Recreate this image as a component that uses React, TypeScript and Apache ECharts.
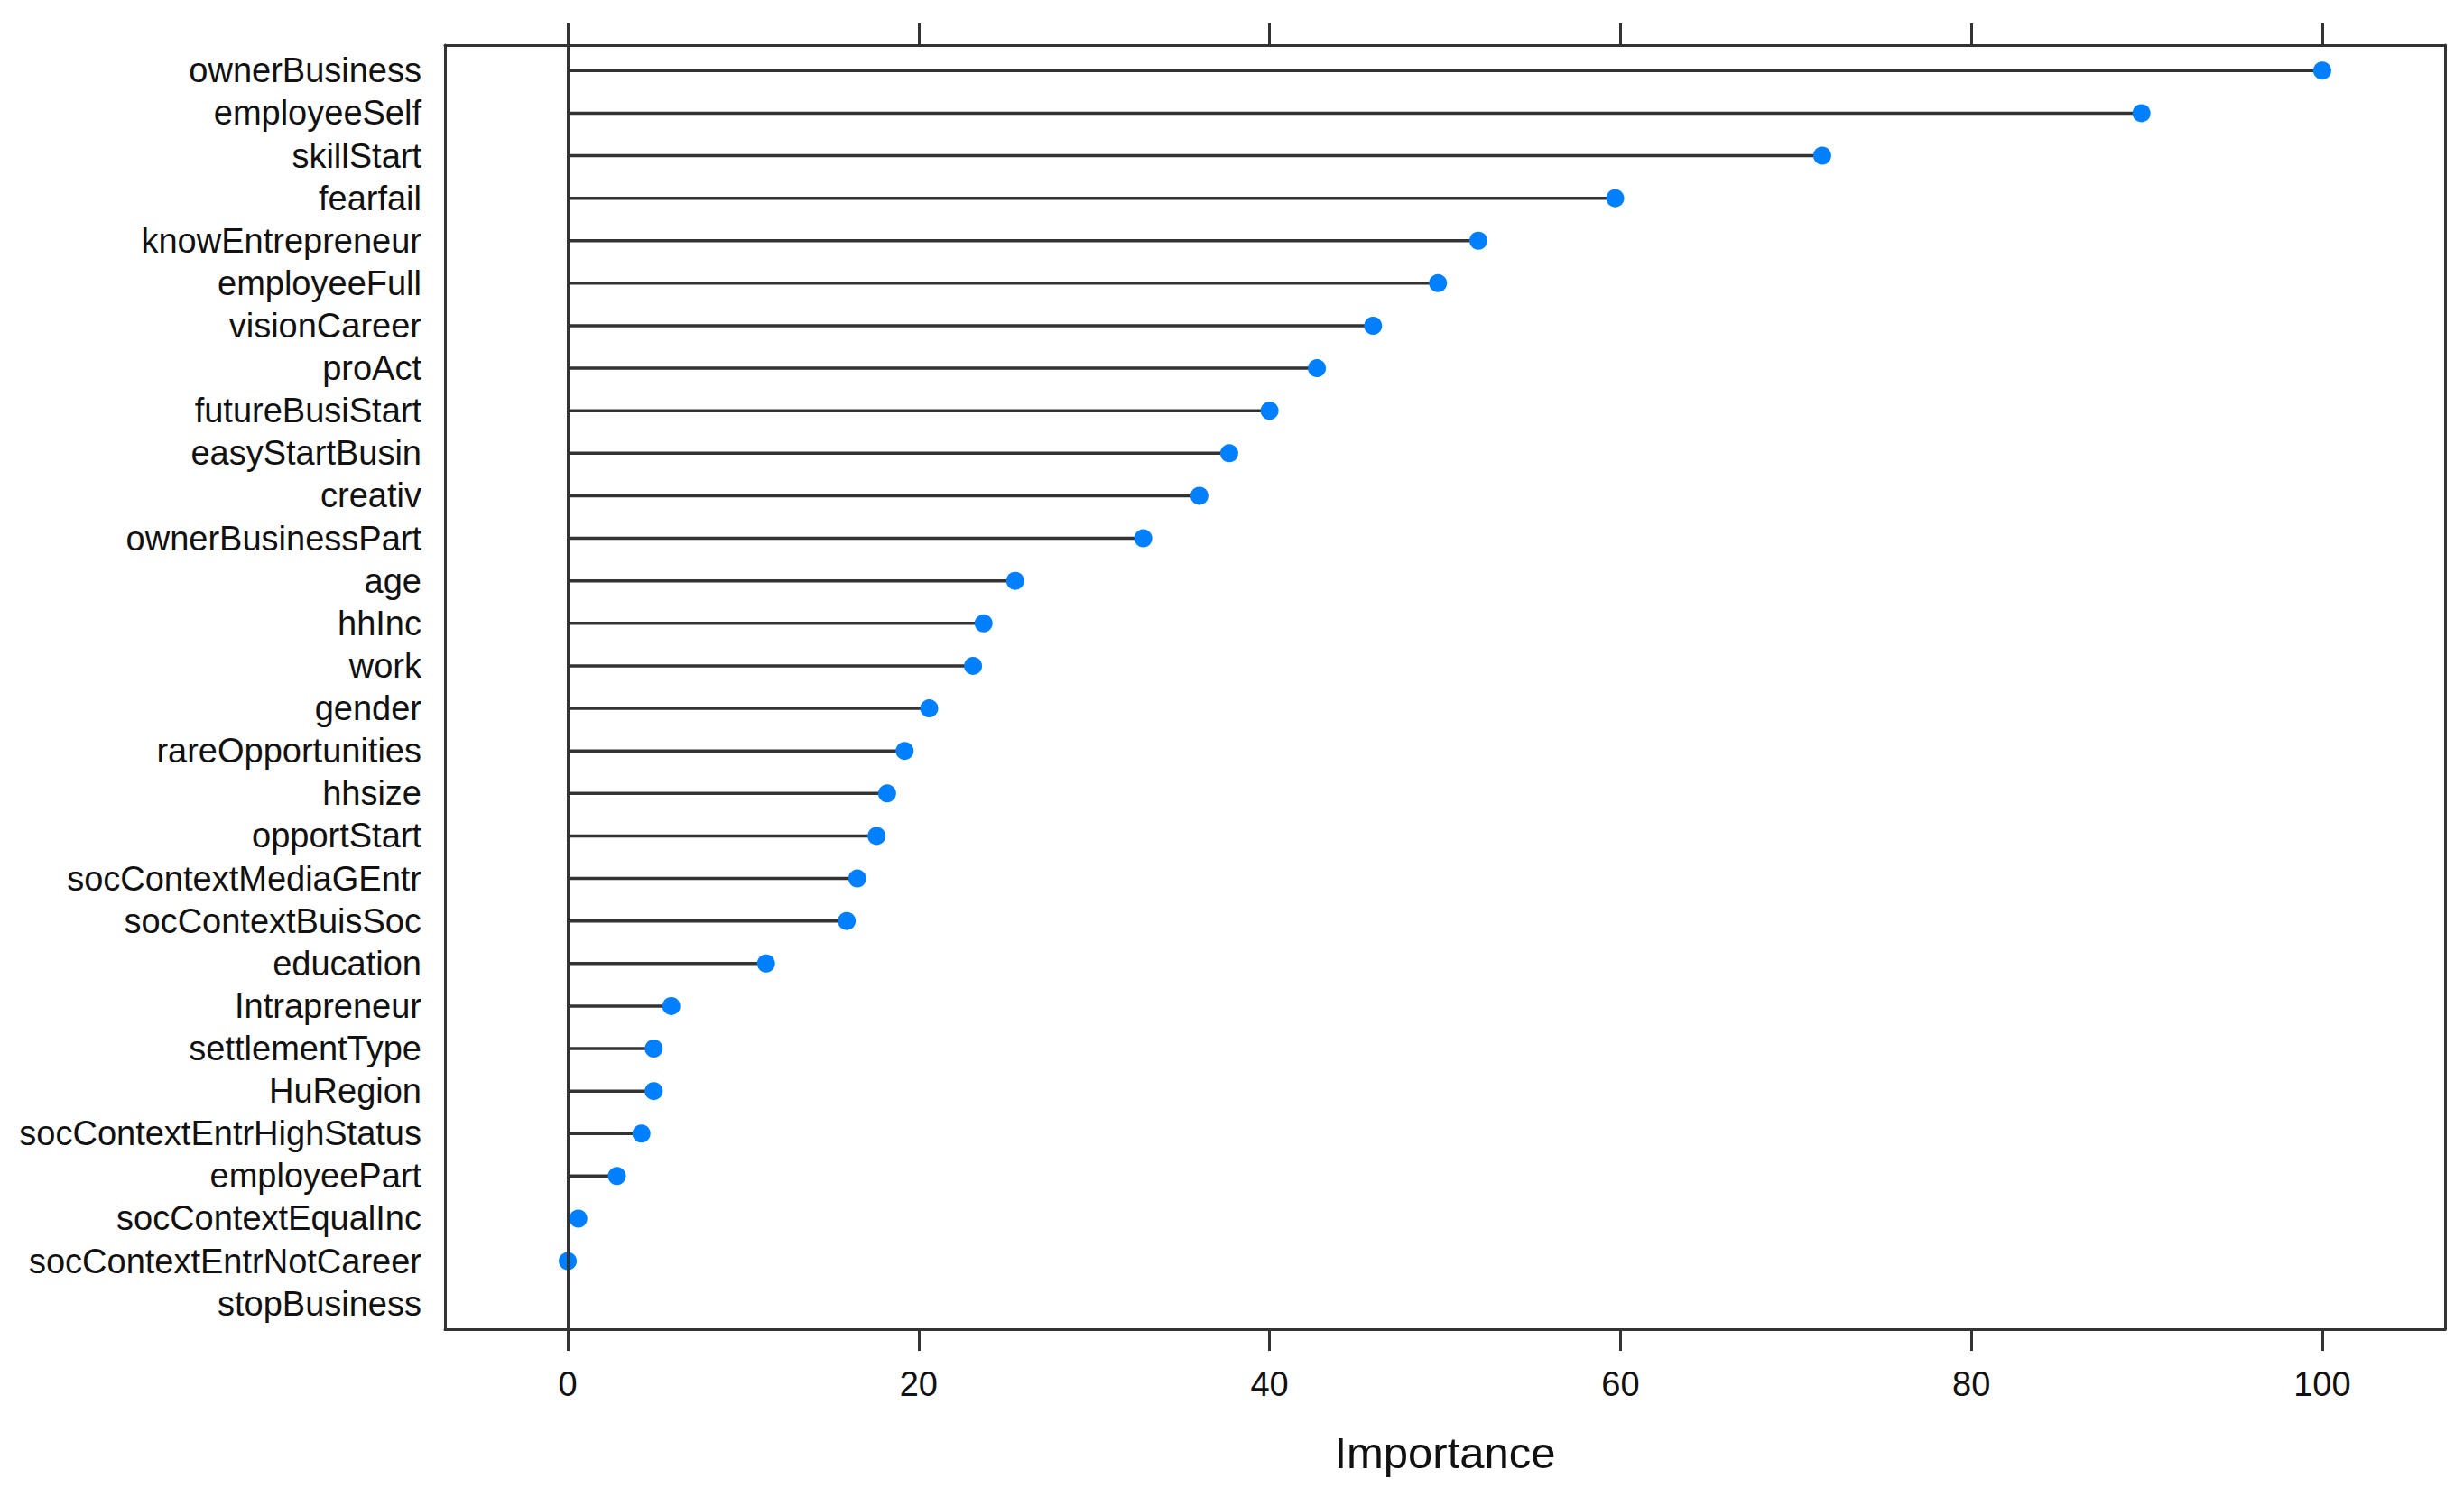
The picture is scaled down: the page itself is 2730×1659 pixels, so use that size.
import React, { useEffect, useRef } from "react";
import * as echarts from "echarts";

const CATEGORIES: string[] = [
  "ownerBusiness",
  "employeeSelf",
  "skillStart",
  "fearfail",
  "knowEntrepreneur",
  "employeeFull",
  "visionCareer",
  "proAct",
  "futureBusiStart",
  "easyStartBusin",
  "creativ",
  "ownerBusinessPart",
  "age",
  "hhInc",
  "work",
  "gender",
  "rareOpportunities",
  "hhsize",
  "opportStart",
  "socContextMediaGEntr",
  "socContextBuisSoc",
  "education",
  "Intrapreneur",
  "settlementType",
  "HuRegion",
  "socContextEntrHighStatus",
  "employeePart",
  "socContextEqualInc",
  "socContextEntrNotCareer",
  "stopBusiness",
];

const IMPORTANCE: (number | null)[] = [
  100, 89.7, 71.5, 59.7, 51.9, 49.6, 45.9, 42.7, 40.0, 37.7, 36.0, 32.8,
  25.5, 23.7, 23.1, 20.6, 19.2, 18.2, 17.6, 16.5, 15.9, 11.3, 5.9, 4.9, 4.9,
  4.2, 2.8, 0.6, 0, null,
];

const X_TICKS: number[] = [0, 20, 40, 60, 80, 100];
const ROW_POSITIONS: number[] = CATEGORIES.map((_, i) => i + 1);

const FONT = "'Liberation Sans', Arial, Helvetica, sans-serif";
const INK = "#333333";

export default function App() {
  const ref = useRef<HTMLDivElement>(null);

  useEffect(() => {
    document.body.style.margin = "0";
    if (!ref.current) return;
    const chart = echarts.init(ref.current, undefined, { renderer: "svg" });

    const points = IMPORTANCE.map((v, i) =>
      v === null ? null : [v, ROW_POSITIONS[i]]
    ).filter((p) => p !== null) as number[][];

    const xCommon = {
      type: "value" as const,
      min: -7,
      max: 107,
      splitLine: { show: false },
      axisLine: { show: true, onZero: false, lineStyle: { color: INK, width: 3 } },
      axisTick: {
        show: true,
        length: 24,
        customValues: X_TICKS,
        lineStyle: { color: INK, width: 3 },
      },
    };

    const yCommon = {
      type: "value" as const,
      min: 0.4,
      max: 30.6,
      inverse: true,
      splitLine: { show: false },
      axisTick: { show: false },
      axisLine: { show: true, onZero: false, lineStyle: { color: INK, width: 3 } },
    };

    chart.setOption({
      animation: false,
      backgroundColor: "#ffffff",
      grid: { left: 493, right: 21, top: 50, bottom: 186, containLabel: false },
      xAxis: [
        {
          ...xCommon,
          position: "bottom",
          name: "Importance",
          nameLocation: "middle",
          nameGap: 112,
          nameTextStyle: { fontSize: 49, color: "#111", fontFamily: FONT },
          axisLabel: {
            show: true,
            customValues: X_TICKS,
            fontSize: 38,
            margin: 42,
            color: "#111",
            fontFamily: FONT,
          },
        },
        {
          ...xCommon,
          position: "top",
          axisLabel: { show: false },
        },
      ],
      yAxis: [
        {
          ...yCommon,
          position: "left",
          axisLabel: {
            show: true,
            customValues: ROW_POSITIONS,
            formatter: (v: number) => CATEGORIES[Math.round(v) - 1] ?? "",
            fontSize: 38,
            margin: 26,
            color: "#111",
            fontFamily: FONT,
          },
        },
        {
          ...yCommon,
          position: "right",
          axisLabel: { show: false },
        },
      ],
      series: [
        {
          type: "custom",
          xAxisIndex: 0,
          yAxisIndex: 0,
          data: points,
          renderItem: (params: any, api: any) => {
            const p0 = api.coord([0, api.value(1)]);
            const p1 = api.coord([api.value(0), api.value(1)]);
            return {
              type: "line",
              shape: { x1: p0[0], y1: p0[1], x2: p1[0], y2: p1[1] },
              style: { stroke: INK, lineWidth: 3.5 },
            };
          },
          markLine: {
            silent: true,
            symbol: ["none", "none"],
            label: { show: false },
            lineStyle: { color: INK, width: 3, type: "solid" },
            data: [{ xAxis: 0 }],
          },
          z: 2,
        },
        {
          type: "scatter",
          xAxisIndex: 0,
          yAxisIndex: 0,
          data: points,
          symbol: "circle",
          symbolSize: 20,
          itemStyle: { color: "#0080ff", opacity: 1 },
          z: 3,
        },
      ],
    });

    return () => chart.dispose();
  }, []);

  return <div ref={ref} style={{ width: 2730, height: 1659 }} />;
}
